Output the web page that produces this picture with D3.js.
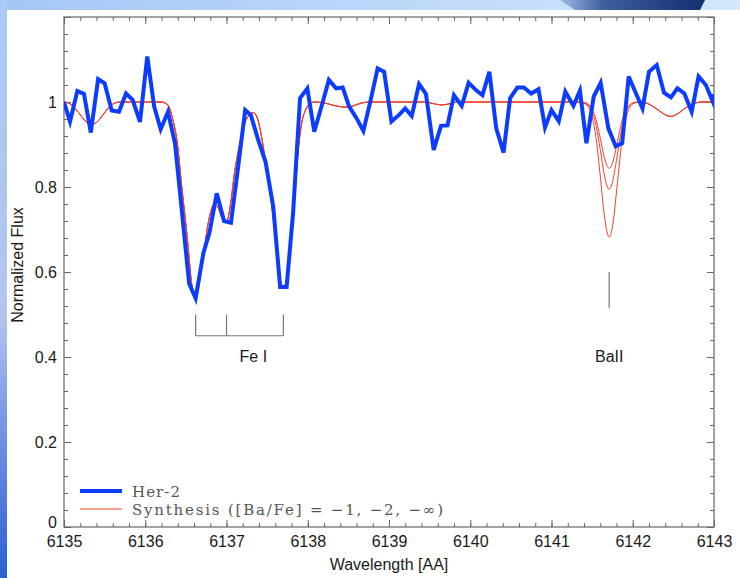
<!DOCTYPE html>
<html>
<head>
<meta charset="utf-8">
<script src="https://cdn.jsdelivr.net/npm/d3@7"></script>
<style>
  body { margin: 0; background: #fff; }
  svg { display: block; font-family: "Liberation Sans", Arial, Helvetica, sans-serif; }
</style>
</head>
<body>
<div class="container"></div>
<script>
// observed spectrum (Her-2)
const herWave = [6135.00, 6135.074, 6135.164, 6135.246, 6135.33, 6135.42, 6135.50, 6135.587, 6135.677, 6135.763,
  6135.845, 6135.935, 6136.025, 6136.11, 6136.19, 6136.28, 6136.366, 6136.45, 6136.54, 6136.62,
  6136.715, 6136.79, 6136.88, 6136.97, 6137.055, 6137.145, 6137.23, 6137.30, 6137.39, 6137.48,
  6137.575, 6137.66, 6137.74, 6137.82, 6137.905, 6137.995, 6138.08, 6138.17, 6138.26, 6138.35,
  6138.43, 6138.51, 6138.60, 6138.685, 6138.775, 6138.86, 6138.94, 6139.03, 6139.12, 6139.20,
  6139.28, 6139.37, 6139.455, 6139.55, 6139.64, 6139.72, 6139.80, 6139.895, 6139.98, 6140.07,
  6140.15, 6140.235, 6140.32, 6140.41, 6140.49, 6140.58, 6140.66, 6140.75, 6140.84, 6140.92,
  6141.00, 6141.09, 6141.17, 6141.27, 6141.35, 6141.43, 6141.52, 6141.605, 6141.70, 6141.79,
  6141.87, 6141.95, 6142.04, 6142.12, 6142.20, 6142.295, 6142.385, 6142.47, 6142.55, 6142.635,
  6142.725, 6142.81, 6142.90, 6142.985, 6143.00];
const herFlux = [1.000, 0.954, 1.026, 1.019, 0.928, 1.054, 1.044, 0.980, 0.977, 1.020,
  1.005, 0.953, 1.107, 0.989, 0.936, 0.977, 0.903, 0.745, 0.573, 0.538,
  0.644, 0.692, 0.785, 0.720, 0.716, 0.850, 0.981, 0.969, 0.911, 0.860,
  0.754, 0.565, 0.565, 0.740, 1.009, 1.032, 0.930, 0.990, 1.052, 1.032,
  1.034, 0.989, 0.962, 0.932, 1.005, 1.079, 1.071, 0.954, 0.969, 0.985,
  0.967, 1.042, 1.019, 0.887, 0.944, 0.945, 1.016, 0.991, 1.045, 1.028,
  1.016, 1.071, 0.938, 0.881, 1.009, 1.034, 1.034, 1.020, 1.030, 0.940,
  0.981, 0.955, 1.024, 0.991, 1.027, 0.903, 1.013, 1.045, 0.938, 0.896,
  0.903, 1.060, 1.020, 0.985, 1.071, 1.087, 1.022, 1.011, 1.032, 1.020,
  0.977, 1.060, 1.040, 1.001, 1.018];

// synthesis, part shared by all three abundances
const synWave = [6135.00, 6135.05, 6135.10, 6135.15, 6135.20, 6135.25, 6135.30, 6135.35, 6135.40, 6135.45,
  6135.50, 6135.55, 6135.60, 6135.65, 6135.70, 6136.20, 6136.25, 6136.30, 6136.35, 6136.39,
  6136.45, 6136.52, 6136.57, 6136.62, 6136.67, 6136.72, 6136.78, 6136.85, 6136.90, 6136.95,
  6137.00, 6137.05, 6137.10, 6137.15, 6137.20, 6137.26, 6137.33, 6137.38, 6137.43, 6137.48,
  6137.53, 6137.58, 6137.63, 6137.67, 6137.70, 6137.73, 6137.78, 6137.83, 6137.88, 6137.93,
  6137.97, 6138.02, 6138.08, 6138.20, 6138.30, 6138.40, 6138.48, 6138.56, 6138.65, 6138.75,
  6139.45, 6139.55, 6139.65, 6139.75, 6139.85, 6141.30, 6142.10, 6142.20, 6142.30, 6142.40,
  6142.47, 6142.55, 6142.65, 6142.75, 6142.85, 6143.00];
const synFlux = [1.000, 0.998, 0.992, 0.982, 0.970, 0.958, 0.950, 0.948, 0.952, 0.962,
  0.975, 0.987, 0.995, 0.999, 1.000, 1.000, 0.997, 0.985, 0.950, 0.910,
  0.800, 0.675, 0.575, 0.536, 0.580, 0.645, 0.720, 0.760, 0.750, 0.725,
  0.718, 0.760, 0.835, 0.890, 0.935, 0.965, 0.975, 0.962, 0.920, 0.860,
  0.800, 0.720, 0.630, 0.575, 0.565, 0.575, 0.640, 0.750, 0.880, 0.955,
  0.980, 0.995, 1.000, 0.998, 0.993, 0.989, 0.988, 0.991, 0.997, 1.000,
  1.000, 0.996, 0.993, 0.996, 1.000, 1.000, 1.000, 0.995, 0.983, 0.970,
  0.966, 0.972, 0.986, 0.996, 1.000, 1.000];

// Ba II 6141.7 window, [Ba/Fe] = -1, -2, -inf
const baWave = [6141.35, 6141.40, 6141.45, 6141.50, 6141.55, 6141.60, 6141.65, 6141.70, 6141.71, 6141.75,
  6141.80, 6141.85, 6141.90, 6141.95, 6142.00, 6142.05];
const baFluxM1 = [1.000, 0.999, 0.995, 0.983, 0.957, 0.915, 0.870, 0.845, 0.844, 0.856,
  0.896, 0.942, 0.974, 0.991, 0.998, 1.000];
const baFluxM2 = [1.000, 0.998, 0.993, 0.977, 0.943, 0.888, 0.829, 0.796, 0.795, 0.811,
  0.863, 0.923, 0.966, 0.989, 0.997, 0.999];
const baFluxInf = [0.999, 0.997, 0.989, 0.965, 0.912, 0.826, 0.734, 0.684, 0.682, 0.706,
  0.788, 0.881, 0.948, 0.982, 0.995, 0.999];

const xTicks = [6135, 6136, 6137, 6138, 6139, 6140, 6141, 6142, 6143];
const yTicks = [0, 0.2, 0.4, 0.6, 0.8, 1];

const feLines = [6136.62, 6137.00, 6137.70];
const baLine = 6141.71;
const legendLabels = ["Her-2", "Synthesis ([Ba/Fe] = \u22121, \u22122, \u2212\u221e)"];

const width = 740;
const height = 578;
const plot = { left: 64, right: 714, top: 17, bottom: 527 };

const svg = d3.select('.container')
  .append('svg')
  .attr('width', width)
  .attr('height', height);

// slide background
const defs = svg.append('defs');
const gLeft = defs.append('linearGradient').attr('id', 'gLeft').attr('x1', 0).attr('y1', 0).attr('x2', 0).attr('y2', 1);
gLeft.append('stop').attr('offset', '0%').attr('stop-color', '#a9cbf7');
gLeft.append('stop').attr('offset', '55%').attr('stop-color', '#b3c3ef');
gLeft.append('stop').attr('offset', '70%').attr('stop-color', '#7f9ee6');
gLeft.append('stop').attr('offset', '100%').attr('stop-color', '#2b5fd4');
const gTop = defs.append('linearGradient').attr('id', 'gTop').attr('x1', 0).attr('y1', 0).attr('x2', 1).attr('y2', 0);
gTop.append('stop').attr('offset', '0%').attr('stop-color', '#a4c7f6');
gTop.append('stop').attr('offset', '100%').attr('stop-color', '#d4e7fb');
const gDark = defs.append('linearGradient').attr('id', 'gDark').attr('x1', 0).attr('y1', 0).attr('x2', 1).attr('y2', 0);
gDark.append('stop').attr('offset', '0%').attr('stop-color', '#9fbbe6');
gDark.append('stop').attr('offset', '30%').attr('stop-color', '#3d5f9e');
gDark.append('stop').attr('offset', '100%').attr('stop-color', '#142e72');

svg.append('rect').attr('width', width).attr('height', height).attr('fill', '#fff');
svg.append('rect').attr('width', width).attr('height', 10).attr('fill', 'url(#gTop)');
svg.append('path').attr('d', 'M560,0 L705,0 L700,10 L575,10 Z').attr('fill', 'url(#gDark)');
svg.append('rect').attr('width', 7).attr('height', height).attr('fill', 'url(#gLeft)');

const x = d3.scaleLinear().domain([6135, 6143]).range([plot.left, plot.right]);
const y = d3.scaleLinear().domain([0, 1.2]).range([plot.bottom, plot.top]);

defs.append('clipPath').attr('id', 'clip')
  .append('rect')
  .attr('x', plot.left).attr('y', plot.top)
  .attr('width', plot.right - plot.left).attr('height', plot.bottom - plot.top);

// axes, ticks on all four sides pointing in
const xMinor = d3.range(6135, 6143.001, 0.2);
const yMinor = d3.range(0, 1.2001, 0.04);
const yMajor = yTicks.concat([1.2]);

const addAxis = (axis, transform) => {
  const g = svg.append('g').attr('transform', transform).call(axis);
  g.select('.domain').remove();
  g.selectAll('line').attr('stroke', '#666').attr('stroke-width', 1);
  g.selectAll('text').attr('fill', '#1a1a1a').attr('font-size', '16px')
    .attr('font-family', '"Liberation Sans", Arial, Helvetica, sans-serif');
  return g;
};

addAxis(d3.axisBottom(x).tickValues(xMinor).tickSize(-4).tickFormat(''), `translate(0,${plot.bottom})`);
addAxis(d3.axisBottom(x).tickValues(xTicks).tickSize(-7).tickPadding(9).tickFormat(d3.format('d')), `translate(0,${plot.bottom})`);
addAxis(d3.axisTop(x).tickValues(xMinor).tickSize(-4).tickFormat(''), `translate(0,${plot.top})`);
addAxis(d3.axisTop(x).tickValues(xTicks).tickSize(-7).tickFormat(''), `translate(0,${plot.top})`);
addAxis(d3.axisLeft(y).tickValues(yMinor).tickSize(-4).tickFormat(''), `translate(${plot.left},0)`);
const yAxisG = addAxis(d3.axisLeft(y).tickValues(yTicks).tickSize(-7).tickPadding(7).tickFormat(d3.format('~g')), `translate(${plot.left},0)`);
// the "0" sits a little higher, just above the 6135 label
yAxisG.selectAll('.tick').filter(d => d === 0).select('text').attr('dy', '0.05em');
addAxis(d3.axisLeft(y).tickValues([1.2]).tickSize(-7).tickFormat(''), `translate(${plot.left},0)`);
addAxis(d3.axisRight(y).tickValues(yMinor).tickSize(-4).tickFormat(''), `translate(${plot.right},0)`);
addAxis(d3.axisRight(y).tickValues(yMajor).tickSize(-7).tickFormat(''), `translate(${plot.right},0)`);

svg.append('rect')
  .attr('x', plot.left).attr('y', plot.top)
  .attr('width', plot.right - plot.left).attr('height', plot.bottom - plot.top)
  .attr('fill', 'none').attr('stroke', '#666').attr('stroke-width', 1.2);

svg.append('text')
  .attr('x', (plot.left + plot.right) / 2).attr('y', 570)
  .attr('text-anchor', 'middle').attr('font-size', '16px').attr('fill', '#1a1a1a')
  .text('Wavelength [AA]');

svg.append('text')
  .attr('transform', 'translate(23,265) rotate(-90)')
  .attr('text-anchor', 'middle').attr('font-size', '16px').attr('fill', '#1a1a1a')
  .text('Normalized Flux');

// lines
const lines = svg.append('g').attr('clip-path', 'url(#clip)');

const synBase = synWave.map((w, i) => [w, synFlux[i]]);
const synthSeries = [baFluxM1, baFluxM2, baFluxInf].map(ba =>
  synBase.concat(baWave.map((w, i) => [w, ba[i]])).sort((a, b) => a[0] - b[0]));

const smooth = d3.line().x(d => x(d[0])).y(d => y(d[1])).curve(d3.curveMonotoneX);
lines.selectAll('path.synth')
  .data(synthSeries)
  .enter()
  .append('path')
  .attr('class', 'synth')
  .attr('d', smooth)
  .attr('fill', 'none')
  .attr('stroke', '#f2402c')
  .attr('stroke-width', 1);

const herData = herWave.map((w, i) => [w, herFlux[i]]);
lines.append('path')
  .datum(herData)
  .attr('d', d3.line().x(d => x(d[0])).y(d => y(d[1])))
  .attr('fill', 'none')
  .attr('stroke', '#0c3cff')
  .attr('stroke-width', 4)
  .attr('stroke-linejoin', 'miter');

// line identifications
const mark = svg.append('g').attr('stroke', '#777').attr('stroke-width', 1.2).attr('fill', 'none');
feLines.forEach(w => {
  mark.append('line').attr('x1', x(w)).attr('x2', x(w)).attr('y1', y(0.50)).attr('y2', y(0.45));
});
mark.append('line')
  .attr('x1', x(feLines[0])).attr('x2', x(feLines[feLines.length - 1]))
  .attr('y1', y(0.45)).attr('y2', y(0.45));
mark.append('line').attr('x1', x(baLine)).attr('x2', x(baLine)).attr('y1', y(0.60)).attr('y2', y(0.515));

svg.append('text').attr('x', x(6137.33)).attr('y', y(0.388))
  .attr('text-anchor', 'middle').attr('font-size', '16px').attr('fill', '#1a1a1a').text('Fe I');
svg.append('text').attr('x', x(baLine)).attr('y', y(0.388))
  .attr('text-anchor', 'middle').attr('font-size', '16px').attr('fill', '#1a1a1a').text('BaII');

// legend
const legend = svg.append('g');
const legendColors = ['#0c3cff', '#f2402c'];
const legendWidths = [4, 1];
const legendLen = [48, 311];
legend.selectAll('line')
  .data(legendLabels)
  .enter()
  .append('line')
  .attr('x1', 80).attr('x2', 122)
  .attr('y1', (_, i) => 491 + i * 18).attr('y2', (_, i) => 491 + i * 18)
  .attr('stroke', (_, i) => legendColors[i])
  .attr('stroke-width', (_, i) => legendWidths[i]);
legend.selectAll('text')
  .data(legendLabels)
  .enter()
  .append('text')
  .attr('x', 132)
  .attr('y', (_, i) => 497 + i * 17.5)
  .attr('font-family', '"DejaVu Serif", "Liberation Serif", serif')
  .attr('font-size', '15px')
  .attr('fill', '#555')
  .attr('textLength', (_, i) => legendLen[i])
  .attr('lengthAdjust', 'spacing')
  .text(d => d);
</script>
</body>
</html>
